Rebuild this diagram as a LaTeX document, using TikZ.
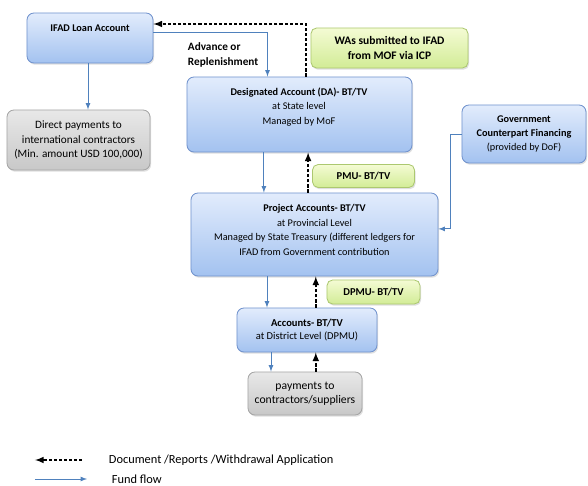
\documentclass[tikz,border=0pt]{standalone}
\usepackage{fontspec}
\setmainfont{Carlito}
\usetikzlibrary{arrows,positioning,shadows}
\definecolor{acctedge}{RGB}{112,146,205}
\definecolor{accttop}{RGB}{226,236,252}
\definecolor{acctbot}{RGB}{163,194,240}
\definecolor{payedge}{RGB}{165,165,165}
\definecolor{paytop}{RGB}{232,232,232}
\definecolor{paybot}{RGB}{200,200,200}
\definecolor{noteedge}{RGB}{172,200,112}
\definecolor{notetop}{RGB}{244,251,212}
\definecolor{notebot}{RGB}{210,236,150}
\definecolor{fundblue}{RGB}{79,129,189}

\tikzset{
  acct/.style={draw=acctedge, line width=0.6pt, rounded corners=5pt, top color=accttop, bottom color=acctbot,
    drop shadow={opacity=0.25, shadow xshift=0.8pt, shadow yshift=-1.2pt}},
  paybox/.style={draw=payedge, line width=0.6pt, rounded corners=5pt, top color=paytop, bottom color=paybot,
    drop shadow={opacity=0.25, shadow xshift=0.8pt, shadow yshift=-1.2pt}},
  notebox/.style={draw=noteedge, line width=0.6pt, rounded corners=4pt, top color=notetop, bottom color=notebot,
    drop shadow={opacity=0.25, shadow xshift=0.8pt, shadow yshift=-1.2pt}},
  boxtext/.style={align=center, font=\fontsize{7.3}{10.3}\selectfont},
  fund/.style={-latex, fundblue, line width=0.6pt},
  docflow/.style={-latex, black, line width=1.1pt, dash pattern=on 2.2pt off 1.4pt}
}

\begin{document}
\begin{tikzpicture}[x=0.025cm, y=-0.025cm]
\useasboundingbox (0,0) rectangle (588,486);

% Loan account and direct payments
\node[acct, minimum width=3.15cm, minimum height=1.25cm] (loan) at (90,38) {};
\node[boxtext] (loantxt) at (90,28) {\textbf{IFAD Loan Account}};
\node[paybox, minimum width=3.575cm, minimum height=1.5cm, align=center, font=\fontsize{8}{10.6}\selectfont] (direct) at (78.5,140) {
Direct payments to\\
international contractors\\
(Min. amount USD 100,000)
};

% State level
\node[acct, minimum width=5.625cm, minimum height=1.875cm] (da) at (299.5,114.5) {};
\node[boxtext] (datxt) at (299,107) {
\textbf{Designated Account (DA)- BT/TV}\\
at State level\\
Managed by MoF
};
\node[notebox, minimum width=3.925cm, minimum height=1cm, align=center, font=\fontsize{8.2}{11.3}\selectfont\bfseries] (was) at (389.5,48) {
WAs submitted to IFAD\\
from MOF via ICP
};
\node[anchor=north west, align=left, font=\fontsize{8}{10.6}\selectfont\bfseries] (advance) at (183,38) {
Advance or\\
Replenishment
};

% Counterpart funds
\node[acct, minimum width=3.1cm, minimum height=1.45cm, boxtext, font=\fontsize{7.3}{10}\selectfont] (gov) at (524,134) {
\textbf{Government}\\
\textbf{Counterpart Financing}\\
(provided by DoF)
};

% Provincial level
\node[notebox, minimum width=2.55cm, minimum height=0.575cm, font=\fontsize{7.5}{9}\selectfont\bfseries] (pmu) at (363.5,176) {PMU- BT/TV};
\node[acct, minimum width=6.175cm, minimum height=2.075cm] (proj) at (314.5,234.5) {};
\node[boxtext] (projtxt) at (314.5,230) {
\textbf{Project Accounts- BT/TV}\\
at Provincial Level\\
Managed by State Treasury (different ledgers for\\
IFAD from Government contribution
};

% District level
\node[notebox, minimum width=2.325cm, minimum height=0.6cm, font=\fontsize{7.5}{9}\selectfont\bfseries] (dpmu) at (373.5,292) {DPMU- BT/TV};
\node[acct, minimum width=3.5cm, minimum height=1.1cm, boxtext, font=\fontsize{7.5}{9.5}\selectfont] (dist) at (307,330) {
\textbf{Accounts- BT/TV}\\
at District Level (DPMU)
};
\node[paybox, minimum width=2.85cm, minimum height=1.075cm, align=center, font=\fontsize{8.3}{10}\selectfont] (pay) at (305,393.5) {
payments to\\
contractors/suppliers
};

% Fund flow and documents
\coordinate (loanout) at ([yshift=0.15cm]loan.east);
\draw[fund] (loanout) -| ([xshift=-0.8cm]da.north);
\draw[docflow] ([xshift=0.16cm]da.north) |- ([yshift=0.35cm]loan.east);
\coordinate (loanpay) at ([xshift=-0.05cm]loan.south);
\draw[fund] (loanpay) -- (loanpay |- direct.north);

\coordinate (dadown) at ([xshift=-0.89cm]da.south);
\draw[fund] (dadown) -- (dadown |- proj.north);
\coordinate (projup) at ([xshift=-0.16cm]proj.north);
\draw[docflow] (projup) -- (projup |- da.south);
\draw[fund] (gov.west) -- ++(-11,0) |- ([yshift=0.14cm]proj.east);

\coordinate (distin) at ([xshift=-1cm]dist.north);
\draw[fund] (distin |- proj.south) -- (distin);
\coordinate (distup) at ([xshift=0.22cm]dist.north);
\draw[docflow] (distup) -- (distup |- proj.south);

\coordinate (payin) at ([xshift=-0.85cm]pay.north);
\draw[fund] (payin |- dist.south) -- (payin);
\coordinate (payup) at ([xshift=0.27cm]pay.north);
\draw[docflow] (payup) -- (payup |- dist.south);

% Legend
\node[anchor=west, font=\fontsize{8.8}{10}\selectfont] (legdoc) at (104,460) {Document /Reports /Withdrawal Application};
\node[anchor=west, font=\fontsize{8.8}{10}\selectfont] (legfund) at (107,479) {Fund flow};
\draw[docflow] ([xshift=-0.55cm]legdoc.west) -- ++(-47,0);
\coordinate (fundend) at ([xshift=-0.5cm]legfund.west);
\draw[fund] ([xshift=-1.3cm]fundend) -- (fundend);
\end{tikzpicture}
\end{document}
